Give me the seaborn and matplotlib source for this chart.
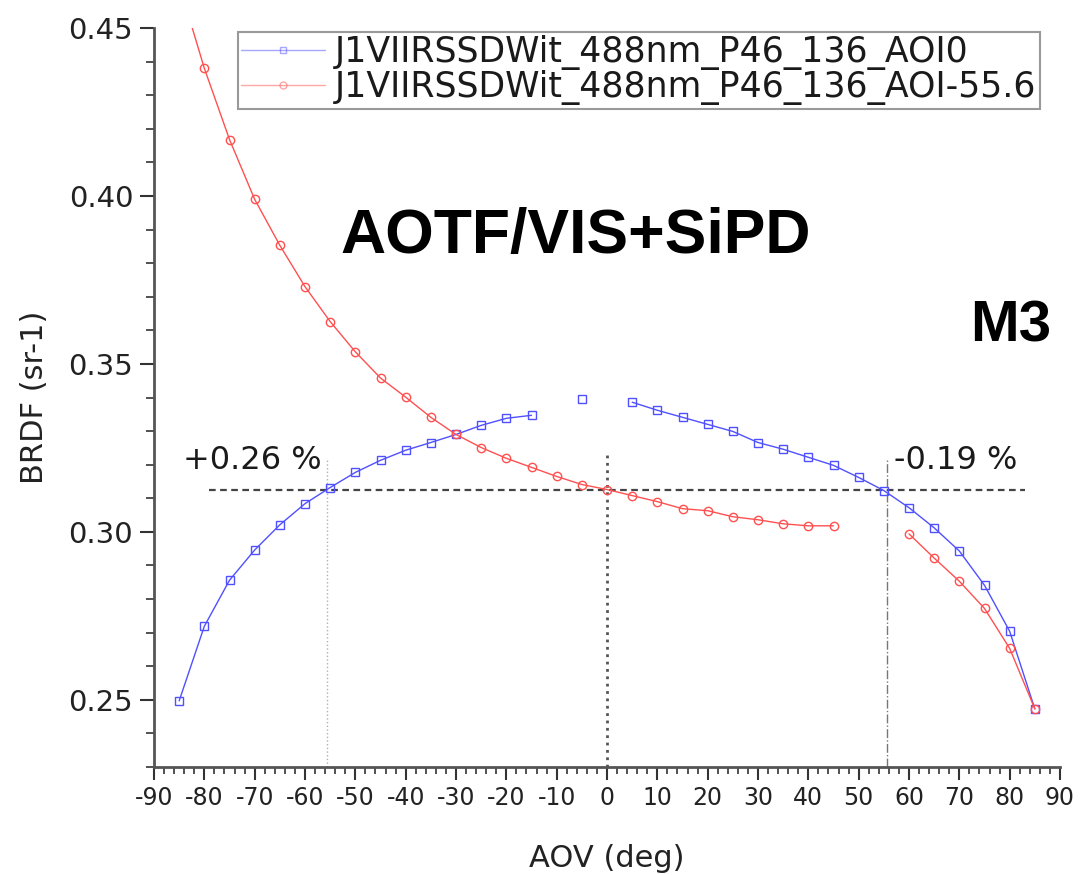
import numpy as np
import pandas as pd
import matplotlib
matplotlib.use("Agg")
import matplotlib.pyplot as plt
from matplotlib.lines import Line2D
from matplotlib.ticker import MultipleLocator
import seaborn as sns

# ---------------- data ----------------
aov = [-85, -80, -75, -70, -65, -60, -55, -50, -45, -40, -35, -30, -25, -20, -15,
       -10, -5, 0, 5, 10, 15, 20, 25, 30, 35, 40, 45, 50, 55, 60, 65, 70, 75, 80, 85]
brdf_aoi0 = [0.2497, 0.2719, 0.2856, 0.2946, 0.3021, 0.3084, 0.3132, 0.3177, 0.3213,
             0.3243, 0.3266, 0.3290, 0.3317, 0.3338, 0.3347, np.nan, 0.3395, np.nan,
             0.3386, 0.3362, 0.3341, 0.3320, 0.3299, 0.3266, 0.3246, 0.3222, 0.3198,
             0.3162, 0.3123, 0.3072, 0.3012, 0.2943, 0.2841, 0.2704, 0.2473]
brdf_aoi556 = [0.4630, 0.4380, 0.4168, 0.3990, 0.3853, 0.3730, 0.3626, 0.3536, 0.3458,
               0.3401, 0.3341, 0.3290, 0.3251, 0.3219, 0.3192, 0.3165, 0.3141, 0.3126,
               0.3108, 0.3090, 0.3069, 0.3063, 0.3045, 0.3036, 0.3024, 0.3018, 0.3018,
               np.nan, np.nan, 0.2994, 0.2922, 0.2853, 0.2772, 0.2653, 0.2473]
labels = ["J1VIIRSSDWit_488nm_P46_136_AOI0", "J1VIIRSSDWit_488nm_P46_136_AOI-55.6"]

ref_level = 0.3125
ref_aov = [-55.6, 0.0, 55.6]
ann_texts = ["+0.26 %", "-0.19 %"]
title_text = "AOTF/VIS+SiPD"
band_text = "M3"


def segments(x, y):
    df = pd.DataFrame({"aov": x, "brdf": y})
    df["seg"] = df["brdf"].isna().cumsum()
    return df.dropna()


sns.set_style("ticks")
plt.rcParams["font.family"] = ["DejaVu Sans"]
plt.rcParams["axes.unicode_minus"] = False

fig = plt.figure(figsize=(10.83, 8.75), dpi=100)
ax = fig.add_axes([154 / 1083, 1 - 767 / 875, (1060 - 154) / 1083, (767 - 28) / 875])

blue = "#5050ff"
red = "#ff5050"
for y, col, mk in [(brdf_aoi0, blue, "s"), (brdf_aoi556, red, "o")]:
    d = segments(aov, y)
    sns.lineplot(data=d, x="aov", y="brdf", units="seg", estimator=None, ax=ax,
                 color=col, lw=1.0, marker=mk, markersize=6, markerfacecolor="none",
                 markeredgecolor=col, markeredgewidth=1.0, legend=False, zorder=3)

# reference lines
ax.plot([-79, 83], [ref_level, ref_level], color="#444444", lw=1.6,
        ls=(0, (3, 2)), zorder=2)
ax.plot([ref_aov[0]] * 2, [0.23, 0.3216], color="#b0b0b0", lw=1.0, ls=":", zorder=1)
ax.plot([ref_aov[1]] * 2, [0.23, 0.323], color="#555555", lw=2.0, ls=":", zorder=1)
ax.plot([ref_aov[2]] * 2, [0.23, 0.322], color="#777777", lw=1.0, ls="-.", zorder=1)

ax.text(-84.2, 0.3186, ann_texts[0], fontsize=23, color="#1a1a1a")
ax.text(57.0, 0.3186, ann_texts[1], fontsize=23, color="#1a1a1a")

fig.text(340 / 1083, 1 - 253 / 875, title_text, fontsize=45, fontweight="bold",
         family="Liberation Sans", color="black")
fig.text(970 / 1083, 1 - 342 / 875, band_text, fontsize=42, fontweight="bold",
         family="Liberation Sans", color="black")

ax.set_xlim(-90, 90)
ax.set_ylim(0.23, 0.45)
ax.xaxis.set_major_locator(MultipleLocator(10))
ax.xaxis.set_minor_locator(MultipleLocator(2))
ax.yaxis.set_major_locator(MultipleLocator(0.05))
ax.yaxis.set_minor_locator(MultipleLocator(0.01))
ax.yaxis.set_major_formatter(matplotlib.ticker.FormatStrFormatter("%.2f"))
ax.tick_params(axis="x", which="major", direction="out", length=9, width=1.5,
               labelsize=17, pad=5, color="#333333", labelcolor="#222222")
ax.tick_params(axis="x", which="minor", direction="out", length=5, width=1.2, color="#333333")
ax.tick_params(axis="y", which="major", direction="out", length=10, width=1.5,
               labelsize=21, pad=5, color="#333333", labelcolor="#222222")
ax.tick_params(axis="y", which="minor", direction="out", length=6, width=1.2, color="#333333")
for s in ["top", "right"]:
    ax.spines[s].set_visible(False)
for s in ["left", "bottom"]:
    ax.spines[s].set_color("#555555")
    ax.spines[s].set_linewidth(2)
ax.set_xlabel("AOV (deg)", fontsize=22, color="#222222", labelpad=24)
ax.set_ylabel("BRDF (sr-1)", fontsize=22, color="#222222", labelpad=14)

handles = [Line2D([], [], color=blue, lw=1.0, alpha=0.5, marker="s", markersize=5,
                  markerfacecolor="none", markeredgecolor=blue),
           Line2D([], [], color=red, lw=1.0, alpha=0.5, marker="o", markersize=5,
                  markerfacecolor="none", markeredgecolor=red)]
leg = fig.legend(handles, labels, loc="upper left",
                 bbox_to_anchor=(238 / 1083, 1 - 32 / 875), fontsize=25,
                 frameon=True, fancybox=False, edgecolor="#999999", framealpha=1,
                 handlelength=2.4, handletextpad=0.3, labelspacing=0.0,
                 borderpad=0.1, borderaxespad=0)
leg.get_frame().set_linewidth(1.5)
for t in leg.get_texts():
    t.set_color("#1a1a1a")

fig.savefig("out.png", dpi=100)
